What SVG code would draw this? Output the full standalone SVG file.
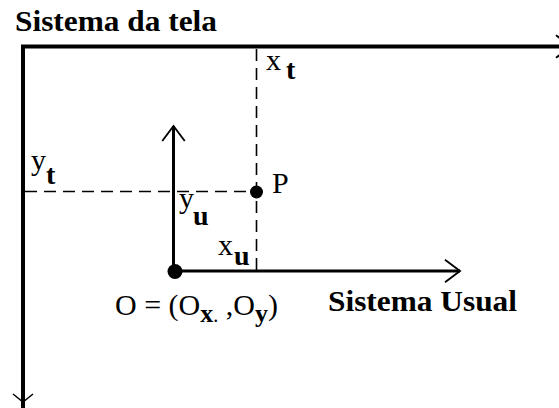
<svg xmlns="http://www.w3.org/2000/svg" width="559" height="408" viewBox="0 0 559 408">
<defs>
<style>
text{font-family:'Liberation Serif','DejaVu Serif',serif;font-size:30px;fill:#000}
.b{font-weight:bold}
.axis{stroke:#000;fill:none}
.dash{stroke:#000;stroke-width:1.6;stroke-dasharray:12 7;fill:none}
.head{stroke:#000;stroke-width:1.5;fill:none}
</style>
<marker id="arr" markerUnits="userSpaceOnUse" markerWidth="30" markerHeight="30" viewBox="-15 -12 18 24" refX="0" refY="0" orient="auto" overflow="visible">
<path class="head" d="M-12,-9 L0,0 L-12,9"/>
</marker>
</defs>
<rect width="559" height="408" fill="#fff"/>
<g id="connectors">
<path class="axis" stroke-width="4" d="M23,410 V46.5 H571" marker-end="url(#arr)"/>
<path class="head" d="M13,394 L23,402 L33,394"/>
<line class="dash" x1="25" y1="191.5" x2="256.5" y2="191.5"/>
<line class="dash" x1="256.5" y1="49" x2="256.5" y2="271"/>
<line class="axis" stroke-width="3" x1="173.5" y1="272" x2="173.5" y2="126" marker-end="url(#arr)"/>
<line class="axis" stroke-width="3" x1="172" y1="271" x2="460" y2="271" marker-end="url(#arr)"/>
</g>
<g id="screen-system">
<text class="b" x="15" y="31" textLength="202" lengthAdjust="spacingAndGlyphs">Sistema da tela</text>
<text x="266" y="70">x<tspan class="b" font-size="28" x="286" y="79">t</tspan></text>
<text x="31" y="170">y<tspan class="b" font-size="28" x="46" y="184">t</tspan></text>
</g>
<g id="point-P">
<circle cx="256.5" cy="192" r="6.5" fill="#000"/>
<text x="272" y="193">P</text>
<text x="179" y="208">y<tspan class="b" font-size="28" x="193" y="225">u</tspan></text>
<text x="218" y="255">x<tspan class="b" font-size="28" x="234" y="265">u</tspan></text>
</g>
<g id="origin">
<circle cx="175" cy="271.5" r="7.5" fill="#000"/>
<text x="115" y="315">O = (O<tspan class="b" font-size="26" y="322">x</tspan><tspan font-size="20" y="322">.</tspan><tspan y="315"> ,O</tspan><tspan class="b" font-size="26" y="322">y</tspan><tspan y="315">)</tspan></text>
</g>
<g id="usual-system">
<text class="b" x="328" y="311" textLength="189" lengthAdjust="spacingAndGlyphs">Sistema Usual</text>
</g>
</svg>
